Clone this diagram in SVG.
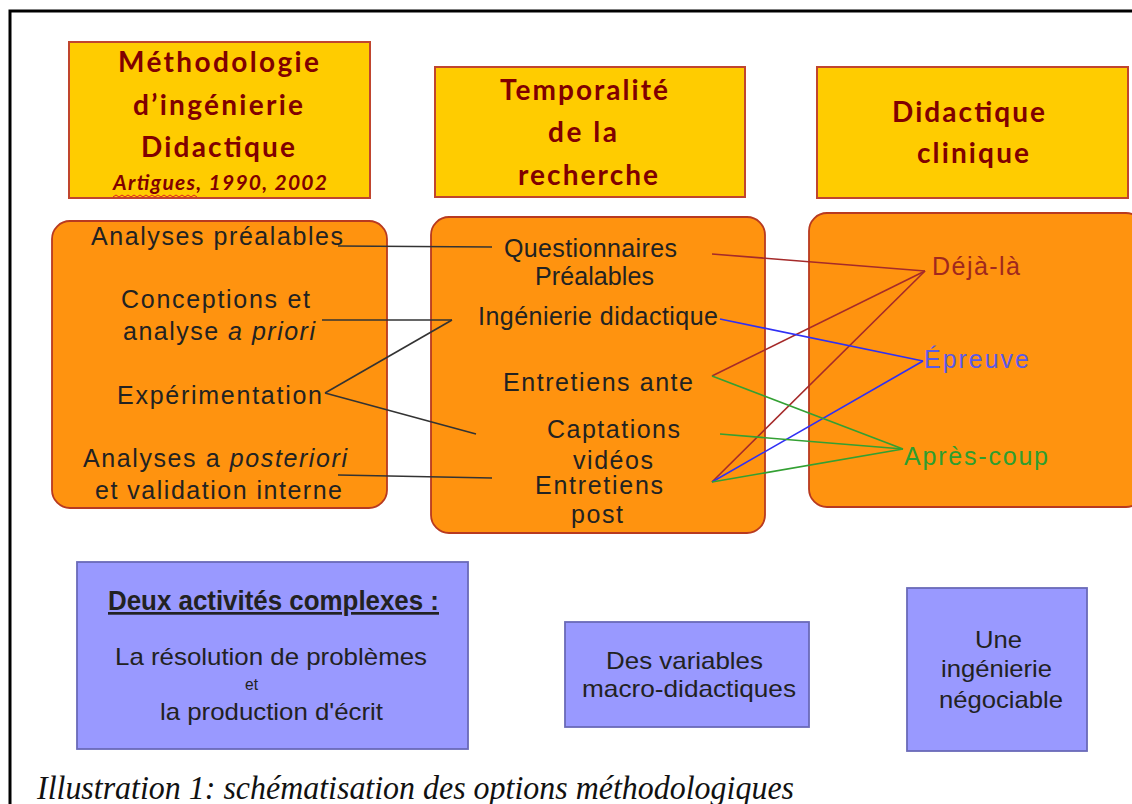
<svg xmlns="http://www.w3.org/2000/svg" width="1132" height="804" viewBox="0 0 1132 804">
<style>
.ybox{fill:#FFCC00;stroke:#C0452E;stroke-width:2}
.obox{fill:#FF930F;stroke:#B83A20;stroke-width:1.8}
.bbox{fill:#9999FF;stroke:#6A6AB8;stroke-width:1.8}
.ttl{font-family:Lato,"Open Sans","Liberation Sans",sans-serif;font-weight:bold;font-size:28px;fill:#800000}
.body{font-family:"Liberation Sans",Arial,sans-serif;font-size:25px;fill:#222}
.small{font-family:"Liberation Sans",Arial,sans-serif;font-size:24px;fill:#222}
.conn{fill:none;stroke-width:1.6}
.k{stroke:#333}
.r{stroke:#A52A2A}
.bl{stroke:#3030F5}
.g{stroke:#33A033}
</style>
<rect x="0" y="0" width="1132" height="804" fill="#fff"/>
<g id="frame">
<path d="M10,804 L10,11 L1132,11" fill="none" stroke="#000" stroke-width="3"/>
</g>

<g id="title-methodologie">
<rect class="ybox" x="69" y="42" width="301" height="156"/>
<text class="ttl" x="118" y="72" textLength="201">Méthodologie</text>
<text class="ttl" x="133" y="115" textLength="170">d’ingénierie</text>
<text class="ttl" x="141" y="157" textLength="154">Didactique</text>
<text class="ttl" x="113" y="190" textLength="214" style="font-size:21px;font-style:italic">Artigues, 1990, 2002</text>
<path d="M113,197 l3,-2 l3,2 l3,-2 l3,2 l3,-2 l3,2 l3,-2 l3,2 l3,-2 l3,2 l3,-2 l3,2 l3,-2 l3,2 l3,-2 l3,2 l3,-2 l3,2 l3,-2 l3,2 l3,-2 l3,2 l3,-2 l3,2 l3,-2 l3,2 l3,-2 l3,2" fill="none" stroke="#E02020" stroke-width="1"/>
</g>

<g id="title-temporalite">
<rect class="ybox" x="435" y="67" width="310" height="130"/>
<text class="ttl" x="500" y="100" textLength="168">Temporalité</text>
<text class="ttl" x="548" y="142" textLength="69">de la</text>
<text class="ttl" x="518" y="185" textLength="140">recherche</text>
</g>

<g id="title-clinique">
<rect class="ybox" x="817" y="67" width="311" height="131"/>
<text class="ttl" x="892" y="122" textLength="153">Didactique</text>
<text class="ttl" x="917" y="163" textLength="112">clinique</text>
</g>

<g id="box-ingenierie">
<rect class="obox" x="52" y="221" width="335" height="287" rx="18"/>
<text class="body" x="91" y="245" textLength="252">Analyses préalables</text>
<text class="body" x="121" y="308" textLength="189">Conceptions et</text>
<text class="body" x="123" y="340" textLength="192">analyse <tspan font-style="italic">a priori</tspan></text>
<text class="body" x="117" y="404" textLength="205">Expérimentation</text>
<text class="body" x="83" y="467" textLength="264">Analyses a <tspan font-style="italic">posteriori</tspan></text>
<text class="body" x="95" y="499" textLength="247">et validation interne</text>
</g>

<g id="box-temporalite">
<rect class="obox" x="431" y="217" width="334" height="316" rx="18"/>
<text class="body" x="504" y="257" textLength="173">Questionnaires</text>
<text class="body" x="535" y="285" textLength="119">Préalables</text>
<text class="body" x="478" y="325" textLength="240">Ingénierie didactique</text>
<text class="body" x="503" y="391" textLength="190">Entretiens ante</text>
<text class="body" x="547" y="438" textLength="133">Captations</text>
<text class="body" x="573" y="469" textLength="80">vidéos</text>
<text class="body" x="535" y="494" textLength="128">Entretiens</text>
<text class="body" x="571" y="523" textLength="52">post</text>
</g>

<g id="box-clinique">
<rect class="obox" x="809" y="213" width="335" height="294" rx="18"/>
<text class="body" x="932" y="275" textLength="88" style="fill:#A0281E">Déjà-là</text>
<text class="body" x="924" y="368" textLength="105" style="fill:#5A5AE6">Épreuve</text>
<text class="body" x="904" y="465" textLength="144" style="fill:#2E9E2E">Après-coup</text>
</g>

<g id="connectors">
<path class="conn k" d="M338,246 L492,247"/>
<path class="conn k" d="M322,320 L452,320"/>
<path class="conn k" d="M325,393 L452,320"/>
<path class="conn k" d="M325,393 L476,434"/>
<path class="conn k" d="M338,475 L492,478"/>
<path class="conn r" d="M712,254 L925,271"/>
<path class="conn r" d="M712,376 L925,271"/>
<path class="conn r" d="M712,482 L925,271"/>
<path class="conn bl" d="M720,319 L923,361"/>
<path class="conn bl" d="M712,482 L923,361"/>
<path class="conn g" d="M712,376 L903,449"/>
<path class="conn g" d="M720,434 L903,449"/>
<path class="conn g" d="M712,482 L903,449"/>
</g>

<g id="box-activites">
<rect class="bbox" x="77" y="562" width="391" height="187"/>
<text class="small" x="108" y="610" textLength="331" lengthAdjust="spacingAndGlyphs" style="font-size:27px;font-weight:bold;text-decoration:underline">Deux activités complexes :</text>
<text class="small" x="115" y="665" textLength="312" lengthAdjust="spacingAndGlyphs">La résolution de problèmes</text>
<text class="small" x="245" y="690" textLength="13" lengthAdjust="spacingAndGlyphs" style="font-size:16px">et</text>
<text class="small" x="160" y="720" textLength="223" lengthAdjust="spacingAndGlyphs">la production d'écrit</text>
</g>

<g id="box-variables">
<rect class="bbox" x="565" y="622" width="244" height="105"/>
<text class="small" x="606" y="669" textLength="157" lengthAdjust="spacingAndGlyphs">Des variables</text>
<text class="small" x="582" y="697" textLength="214" lengthAdjust="spacingAndGlyphs">macro-didactiques</text>
</g>

<g id="box-negociable">
<rect class="bbox" x="907" y="588" width="180" height="163"/>
<text class="small" x="975" y="648" textLength="47" lengthAdjust="spacingAndGlyphs">Une</text>
<text class="small" x="941" y="677" textLength="111" lengthAdjust="spacingAndGlyphs">ingénierie</text>
<text class="small" x="939" y="708" textLength="124" lengthAdjust="spacingAndGlyphs">négociable</text>
</g>

<text id="caption" x="37" y="799" textLength="757" lengthAdjust="spacingAndGlyphs" style="font-family:'Liberation Serif','Times New Roman',serif;font-style:italic;font-size:33px;fill:#111">Illustration 1: schématisation des options méthodologiques</text>
</svg>
